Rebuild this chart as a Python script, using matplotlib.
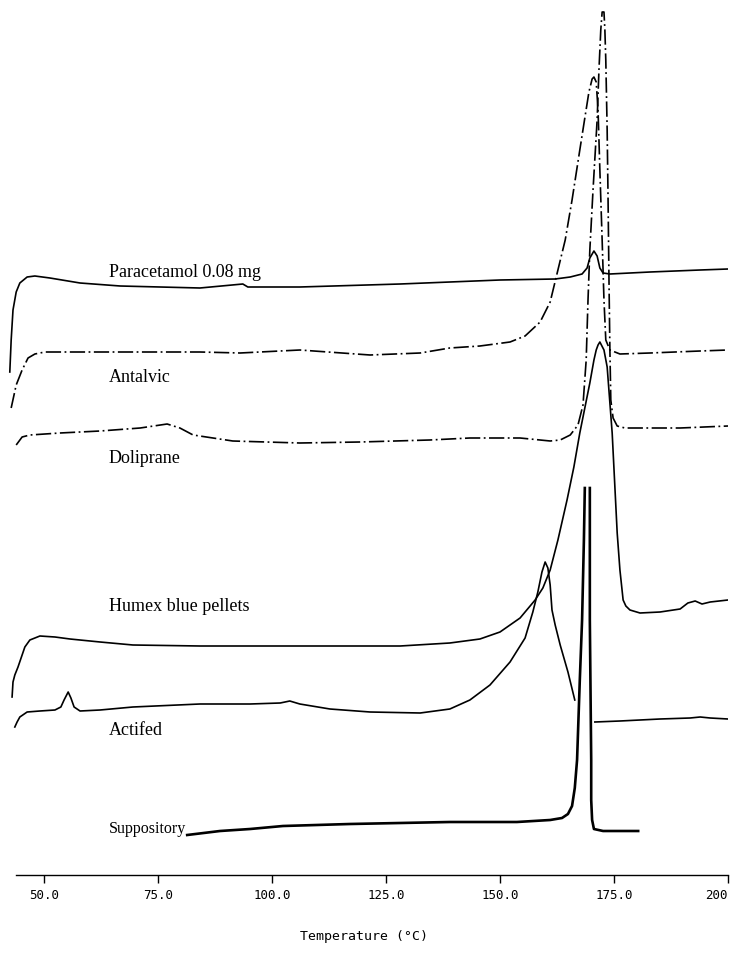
import numpy as np
import matplotlib
matplotlib.use("Agg")
import matplotlib.pyplot as plt

# DSC traces (temperature in C, signal in arbitrary units, offsets included)
para_t = [42.5, 42.8, 43.2, 43.9, 44.7, 46.3, 48.0, 51.3, 57.9, 66.7, 84.2, 93.6, 94.7, 106.1,
          128.1, 139.0, 150.0, 162.1, 165.4, 168.0, 169.1, 169.7, 170.6, 171.3, 171.9, 172.6,
          174.1, 182.9, 193.9, 200.0]
para_s = [503, 535, 565, 583, 592, 598, 599, 597, 592, 589, 587, 591, 588, 588,
          591, 593, 595, 596, 598, 601, 607, 617, 624, 619, 607, 602,
          601, 603, 605, 606]

antal_t = [42.8, 43.9, 45.2, 46.5, 48.0, 50.2, 62.3, 84.2, 93.0, 106.1, 121.5, 132.5, 139.0,
           145.6, 152.2, 155.5, 158.8, 161.0, 162.7, 164.3, 165.8, 167.5, 168.6, 169.5, 170.2,
           170.6, 171.1, 171.5, 171.9, 172.4, 172.8, 173.2, 174.1, 176.3, 182.9, 193.9, 200.0]
antal_s = [467, 490, 505, 517, 521, 523, 523, 523, 522, 525, 520, 522, 527,
           529, 533, 539, 553, 573, 605, 635, 675, 725, 757, 783, 796,
           798, 793, 765, 705, 635, 575, 535, 525, 521, 522, 524, 525]

doli_t = [43.9, 45.2, 46.9, 53.5, 62.3, 71.1, 77.0, 79.8, 82.7, 91.4, 106.1, 119.3, 134.6,
          143.4, 154.4, 161.0, 163.2, 165.4, 167.1, 168.2, 168.9, 169.3, 169.7, 170.4, 171.3,
          171.7, 172.1, 172.4, 172.8, 173.0, 173.2, 173.5, 173.7, 173.9, 174.1, 174.3, 174.8,
          175.7, 177.4, 189.5, 200.0]
doli_s = [430, 438, 440, 442, 444, 447, 451, 447, 440, 434, 432, 433, 435,
          437, 437, 434, 435, 440, 450, 470, 515, 575, 625, 685, 755,
          805, 845, 863, 863, 845, 815, 745, 675, 595, 525, 475, 457,
          449, 447, 447, 449]

humex_t = [43.0, 43.2, 43.6, 44.3, 45.2, 45.8, 46.9, 49.1, 52.4, 55.7, 62.3, 69.5, 84.2, 95.2,
           110.5, 128.1, 139.0, 145.6, 150.0, 154.4, 157.7, 159.4, 161.0, 162.7, 164.7, 166.2,
           167.5, 168.6, 169.7, 170.6, 171.1, 171.5, 171.9, 172.8, 173.5, 174.6, 175.7, 176.3,
           177.0, 177.6, 178.5, 180.7, 185.1, 189.5, 191.2, 192.8, 194.3, 196.1, 200.0]
humex_s = [178, 193, 200, 208, 220, 228, 235, 239, 238, 236, 233, 230, 229, 229,
           229, 229, 232, 236, 243, 257, 275, 287, 305, 335, 375, 408,
           442, 467, 492, 515, 525, 530, 533, 525, 508, 442, 342, 305,
           275, 269, 265, 262, 263, 266, 272, 274, 271, 273, 275]

actif_t = [43.6, 44.1, 44.7, 46.3, 49.1, 52.4, 53.7, 54.4, 55.3, 55.9, 56.6, 57.9, 62.3, 69.5,
           84.2, 95.2, 101.8, 103.9, 106.1, 112.7, 121.5, 132.5, 139.0, 143.4, 147.8, 152.2,
           155.5, 157.2, 158.3, 159.2, 159.9, 160.5, 161.0, 161.4, 162.1, 163.2, 164.9, 166.4]
actif_s = [148, 153, 158, 163, 164, 165, 168, 175, 183, 177, 168, 164, 165, 168,
           171, 171, 172, 174, 171, 166, 163, 162, 166, 175, 190, 213,
           237, 263, 283, 303, 313, 307, 290, 265, 250, 230, 203, 175]
actif2_t = [170.8, 176.3, 185.1, 191.7, 193.9, 196.1, 200.0]
actif2_s = [153, 154, 156, 157, 158, 157, 156]

# suppository peak runs off scale: two branches, no top
supp_t = [81.4, 88.6, 95.2, 102.4, 117.1, 139.0, 153.7, 161.0, 163.6, 164.9, 165.8, 166.4,
          166.9, 167.5, 168.0, 168.4, 168.6, np.nan, 169.7, 169.7, 170.0, 170.0, 170.2, 170.6,
          172.6, 180.3]
supp_s = [40, 44, 46, 49, 51, 53, 53, 55, 57, 61, 69, 87,
          115, 195, 255, 335, 387, np.nan, 387, 255, 115, 75, 55, 46,
          44, 44]

labels = ["Paracetamol 0.08 mg", "Antalvic", "Doliprane", "Humex blue pellets", "Actifed", "Suppository"]
label_y = [598, 493, 412, 264, 140, 42]
label_size = [13, 13, 13, 13, 13, 11.5]

ticks = [50, 75, 100, 125, 150, 175, 200]
tick_labels = ["50.0", "75.0", "100.0", "125.0", "150.0", "175.0", "200"]

plt.rcParams["lines.scale_dashes"] = False

fig = plt.figure(figsize=(7.3, 9.56), dpi=100)
ax = fig.add_axes([0, 81 / 956, 728 / 730, 875 / 956])

dashdot = (0, (11, 2.5, 1.3, 2.5))
ax.plot(para_t, para_s, color="black", lw=1.2)
ax.plot(antal_t, antal_s, color="black", lw=1.2, linestyle=dashdot)
ax.plot(doli_t, doli_s, color="black", lw=1.2, linestyle=dashdot)
ax.plot(humex_t, humex_s, color="black", lw=1.2)
ax.plot(actif_t, actif_s, color="black", lw=1.2)
ax.plot(actif2_t, actif2_s, color="black", lw=1.2)
ax.plot(supp_t, supp_s, color="black", lw=1.9)

for lab, yy, fs in zip(labels, label_y, label_size):
    ax.text(64.2, yy, lab, family="Liberation Serif", fontsize=fs, va="baseline", ha="left")

ax.set_xlim(40.35, 200)
ax.set_ylim(0, 875)
for side in ["left", "top", "right"]:
    ax.spines[side].set_visible(False)
ax.spines["bottom"].set_bounds(43.9, 200)
ax.spines["bottom"].set_linewidth(1.0)
ax.set_yticks([])
ax.set_xticks(ticks)
ax.set_xticklabels(tick_labels, family="DejaVu Sans Mono", fontsize=9)
ax.get_xticklabels()[-1].set_horizontalalignment("right")
ax.tick_params(axis="x", direction="out", length=6, width=1.0, pad=4)
ax.set_xlabel("Temperature (°C)", family="DejaVu Sans Mono", fontsize=9.5, labelpad=20)

fig.savefig("out.png", dpi=100)
